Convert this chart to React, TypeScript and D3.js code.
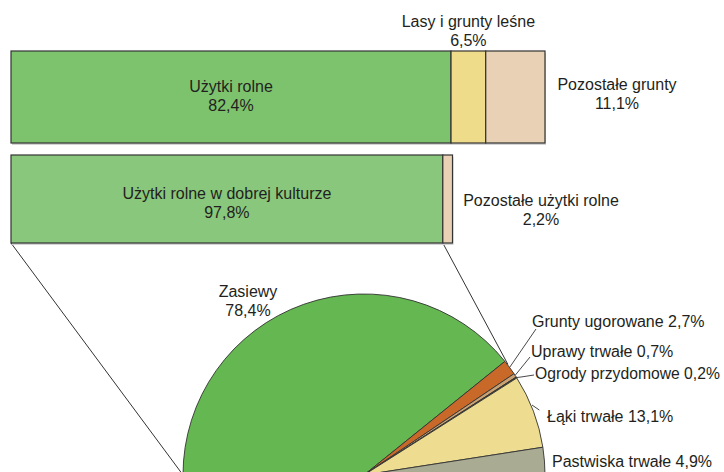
import React from "react";
import * as d3 from "d3";

// ---- data ----
const landLabels = ["Użytki rolne", "Lasy i grunty leśne", "Pozostałe grunty"];
const landValues = [82.4, 6.5, 11.1];

const agriLabels = ["Użytki rolne w dobrej kulturze", "Pozostałe użytki rolne"];
const agriValues = [97.8, 2.2];

const goodLabels = [
  "Zasiewy",
  "Grunty ugorowane",
  "Uprawy trwałe",
  "Ogrody przydomowe",
  "Łąki trwałe",
  "Pastwiska trwałe",
];
const goodValues = [78.4, 2.7, 0.7, 0.2, 13.1, 4.9];

const fmt = (v: number) => v.toFixed(1).replace(".", ",") + "%";

const W = 724;
const H = 472;
const TXT = "#231f20";
const STROKE = "#333333";
const FONT = "'Liberation Sans', Arial, sans-serif";

export default function App() {
  // bar 1
  const x1 = d3.scaleLinear().domain([0, 100]).range([11, 545]);
  const bar1Colors = ["#7dc36e", "#efdc8a", "#e8d1b5"];
  const cum1 = d3.cumsum(landValues);
  const seg1 = landValues.map((v, i) => ({ v, x0: x1(cum1[i] - v), x1: x1(cum1[i]) }));
  const b1y = 51, b1h = 92;

  // bar 2 spans the first segment of bar 1
  const x2 = d3.scaleLinear().domain([0, 100]).range([11, seg1[0].x1 + 1.5]);
  const bar2Colors = ["#89c77c", "#e8d1b5"];
  const cum2 = d3.cumsum(agriValues);
  const seg2 = agriValues.map((v, i) => ({ v, x0: x2(cum2[i] - v), x1: x2(cum2[i]) }));
  const b2y = 155, b2h = 88;

  // half pie
  const cx = 364, cy = 475, R = 181;
  const pieColors = ["#65b851", "#c8692a", "#c9a173", "#4a3a2a", "#eedd90", "#a9ab93"];
  const pie = d3
    .pie<number>()
    .sort(null)
    .startAngle(-Math.PI / 2)
    .endAngle(Math.PI / 2)(goodValues);
  const arc = d3.arc<d3.PieArcDatum<number>>().innerRadius(0).outerRadius(R);
  const pt = (a: number, r: number) => [cx + r * Math.sin(a), cy - r * Math.cos(a)];
  const mid = (i: number) => (pie[i].startAngle + pie[i].endAngle) / 2;

  const zEnd = pt(pie[0].endAngle, R);
  const leftEnd = pt(-Math.PI / 2, R);

  const labelStyle = { fontFamily: FONT, fontSize: 16, fill: TXT } as const;

  const two = (x: number, y: number, a: string, b: string, anchor = "middle") => (
    <text x={x} y={y} textAnchor={anchor as any} style={labelStyle}>
      <tspan x={x} dy={0}>{a}</tspan>
      <tspan x={x} dy={18.5}>{b}</tspan>
    </text>
  );

  const u = pt(mid(1), R);
  const p = pt(mid(2), R);
  const o = pt(mid(3), R);
  const l0 = pt(mid(4) - 0.035, R + 1);
  const l1 = pt(mid(4) + 0.005, R + 6);

  return (
    <svg width={W} height={H} style={{ position: "absolute", left: 0, top: 0, background: "#fff" }}>
      {/* connectors */}
      <line x1={11} y1={b2y + b2h} x2={leftEnd[0]} y2={leftEnd[1]} stroke={STROKE} strokeWidth={1} />
      <line x1={seg2[0].x1} y1={b2y + b2h} x2={zEnd[0] + 3} y2={zEnd[1] + 3} stroke={STROKE} strokeWidth={1} />

      {/* bar 1 */}
      <rect x={x1(0) + 1} y={b1y + 2} width={x1(100) - x1(0)} height={b1h} fill="#d4d4d4" />
      {seg1.map((s, i) => (
        <rect key={i} x={s.x0} y={b1y} width={s.x1 - s.x0} height={b1h} fill={bar1Colors[i]} stroke={STROKE} strokeWidth={1.2} />
      ))}
      {/* bar 2 */}
      <rect x={x2(0) + 1} y={b2y + 2} width={x2(100) - x2(0)} height={b2h} fill="#d4d4d4" />
      {seg2.map((s, i) => (
        <rect key={i} x={s.x0} y={b2y} width={s.x1 - s.x0} height={b2h} fill={bar2Colors[i]} stroke={STROKE} strokeWidth={1.2} />
      ))}

      {/* pie */}
      <g transform={`translate(${cx},${cy})`}>
        {pie.map((d, i) => (
          <path key={i} d={arc(d) || ""} fill={pieColors[i]} stroke={STROKE} strokeWidth={0.9} />
        ))}
      </g>

      {/* leaders */}
      <polyline points={`${u[0]},${u[1]} 536,329`} fill="none" stroke={STROKE} strokeWidth={0.9} />
      <polyline points={`${p[0]},${p[1]} 530,357`} fill="none" stroke={STROKE} strokeWidth={0.9} />
      <polyline points={`${o[0]},${o[1]} 521,377 534,375`} fill="none" stroke={STROKE} strokeWidth={0.9} />
      <line x1={l0[0]} y1={l0[1]} x2={l1[0]} y2={l1[1]} stroke={STROKE} strokeWidth={0.9} />

      {/* bar labels */}
      {two((seg1[0].x0 + seg1[0].x1) / 2, 92, landLabels[0], fmt(landValues[0]))}
      {two((seg1[1].x0 + seg1[1].x1) / 2, 27, landLabels[1], fmt(landValues[1]))}
      {two(617, 90, landLabels[2], fmt(landValues[2]))}
      {two((seg2[0].x0 + seg2[0].x1) / 2, 199, agriLabels[0], fmt(agriValues[0]))}
      {two(541, 206, agriLabels[1], fmt(agriValues[1]))}

      {/* pie labels */}
      {two(248, 297, goodLabels[0], fmt(goodValues[0]))}
      <text x={532} y={327} style={labelStyle}>{`${goodLabels[1]} ${fmt(goodValues[1])}`}</text>
      <text x={531} y={357} style={labelStyle}>{`${goodLabels[2]} ${fmt(goodValues[2])}`}</text>
      <text x={535} y={379} style={{ ...labelStyle, fontSize: 15.7 }}>{`${goodLabels[3]} ${fmt(goodValues[3])}`}</text>
      <text x={547} y={422} style={labelStyle}>{`${goodLabels[4]} ${fmt(goodValues[4])}`}</text>
      <text x={552} y={467} style={labelStyle}>{`${goodLabels[5]} ${fmt(goodValues[5])}`}</text>
    </svg>
  );
}
